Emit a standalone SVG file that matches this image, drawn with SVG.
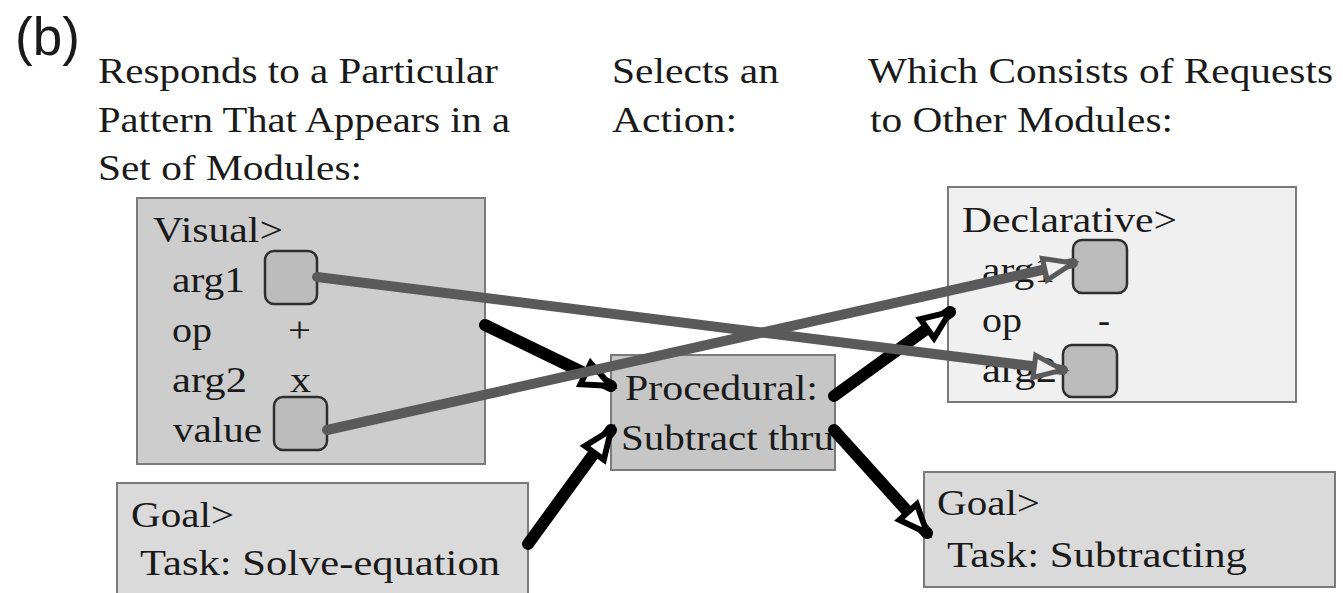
<svg xmlns="http://www.w3.org/2000/svg" width="1343" height="593" viewBox="0 0 1343 593">
<style>
.t{font-family:"Liberation Serif","Times New Roman",serif;font-size:35px;fill:#1a1a1a}
.box{stroke:#7a7a7a;stroke-width:2}
.sq{fill:#bcbcbc;stroke:#2e2e2e;stroke-width:2.5}
.blk{stroke:#000;stroke-width:12;fill:none;stroke-linecap:round}
.gry{stroke:#5a5a5a;stroke-width:10;fill:none;stroke-linecap:round}
</style>
<defs>
<marker id="ab" markerUnits="userSpaceOnUse" markerWidth="40" markerHeight="40" refX="24" refY="10" orient="auto" viewBox="-4 -4 34 28">
<path d="M0,0 L24,10 L0,20 Z" fill="#fff" stroke="#000" stroke-width="5" stroke-linejoin="miter"/>
</marker>
<marker id="ag" markerUnits="userSpaceOnUse" markerWidth="40" markerHeight="40" refX="26" refY="10" orient="auto" viewBox="-4 -4 36 28">
<path d="M0,0 L26,10 L0,20 Z" fill="#f0f0f0" stroke="#5a5a5a" stroke-width="4.5"/>
</marker>
</defs>
<rect width="1343" height="593" fill="#fff"/>
<g id="header">
<text x="15" y="55" font-family="Liberation Sans, Arial, sans-serif" font-size="53" fill="#1a1a1a">(b)</text>
<text class="t" x="98" y="83" textLength="400" lengthAdjust="spacingAndGlyphs">Responds to a Particular</text>
<text class="t" x="98" y="132" textLength="412" lengthAdjust="spacingAndGlyphs">Pattern That Appears in a</text>
<text class="t" x="98" y="180" textLength="264" lengthAdjust="spacingAndGlyphs">Set of Modules:</text>
<text class="t" x="612" y="83" textLength="167" lengthAdjust="spacingAndGlyphs">Selects an</text>
<text class="t" x="612" y="132" textLength="125" lengthAdjust="spacingAndGlyphs">Action:</text>
<text class="t" x="868" y="83" textLength="465" lengthAdjust="spacingAndGlyphs">Which Consists of Requests</text>
<text class="t" x="870" y="132" textLength="303" lengthAdjust="spacingAndGlyphs">to Other Modules:</text>
</g>
<g id="visual">
<rect class="box" x="137" y="198" width="348" height="266" fill="#cdcdcd"/>
<text class="t" x="153" y="242" textLength="130" lengthAdjust="spacingAndGlyphs">Visual&gt;</text>
<text class="t" x="172" y="292" textLength="73" lengthAdjust="spacingAndGlyphs">arg1</text>
<text class="t" x="172" y="342" textLength="40" lengthAdjust="spacingAndGlyphs">op</text>
<text class="t" x="288" y="342" textLength="23" lengthAdjust="spacingAndGlyphs">+</text>
<text class="t" x="172" y="392" textLength="75" lengthAdjust="spacingAndGlyphs">arg2</text>
<text class="t" x="290" y="392" textLength="21" lengthAdjust="spacingAndGlyphs">x</text>
<text class="t" x="173" y="442" textLength="89" lengthAdjust="spacingAndGlyphs">value</text>
<rect class="sq" x="265" y="251" width="52" height="53" rx="9"/>
<rect class="sq" x="274" y="397" width="53" height="53" rx="9"/>
</g>
<g id="goal-left">
<rect class="box" x="117" y="483" width="411" height="130" fill="#dadada"/>
<text class="t" x="131" y="527" textLength="103" lengthAdjust="spacingAndGlyphs">Goal&gt;</text>
<text class="t" x="140" y="575" textLength="360" lengthAdjust="spacingAndGlyphs">Task: Solve-equation</text>
</g>
<g id="procedural">
<rect class="box" x="611" y="355" width="224" height="115" fill="#c6c6c6"/>
<text class="t" x="625" y="400" textLength="193" lengthAdjust="spacingAndGlyphs">Procedural:</text>
<text class="t" x="621" y="450" textLength="213" lengthAdjust="spacingAndGlyphs">Subtract thru</text>
</g>
<g id="declarative">
<rect class="box" x="948" y="187" width="348" height="215" fill="#f0f0f0"/>
<text class="t" x="962" y="232" textLength="215" lengthAdjust="spacingAndGlyphs">Declarative&gt;</text>
<text class="t" x="982" y="282" textLength="73" lengthAdjust="spacingAndGlyphs">arg1</text>
<text class="t" x="982" y="332" textLength="40" lengthAdjust="spacingAndGlyphs">op</text>
<text class="t" x="1098" y="332" textLength="12" lengthAdjust="spacingAndGlyphs">-</text>
<text class="t" x="982" y="382" textLength="75" lengthAdjust="spacingAndGlyphs">arg2</text>
<rect class="sq" x="1073" y="240" width="54" height="53" rx="9"/>
<rect class="sq" x="1063" y="345" width="54" height="52" rx="9"/>
</g>
<g id="goal-right">
<rect class="box" x="924" y="472" width="411" height="115" fill="#dadada"/>
<text class="t" x="937" y="515" textLength="103" lengthAdjust="spacingAndGlyphs">Goal&gt;</text>
<text class="t" x="947" y="567" textLength="300" lengthAdjust="spacingAndGlyphs">Task: Subtracting</text>
</g>
<g id="connectors">
<line class="blk" x1="485" y1="325" x2="611" y2="386" marker-end="url(#ab)"/>
<line class="blk" x1="528" y1="544" x2="611" y2="430" marker-end="url(#ab)"/>
<line class="blk" x1="834" y1="396" x2="950" y2="312" marker-end="url(#ab)"/>
<line class="blk" x1="834" y1="430" x2="927" y2="533" marker-end="url(#ab)"/>
<line class="gry" x1="317" y1="277" x2="1063" y2="370" marker-end="url(#ag)"/>
<line class="gry" x1="327" y1="430" x2="1073" y2="263" marker-end="url(#ag)"/>
</g>
</svg>
